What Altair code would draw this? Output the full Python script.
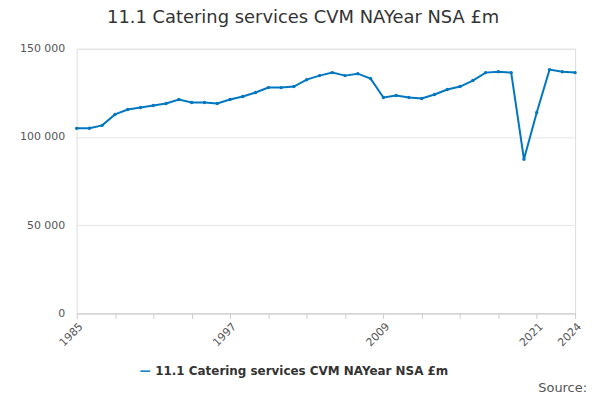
import altair as alt
import pandas as pd

years = list(range(1985, 2025))
values = [104900, 105000, 106600, 112800, 115600, 116700, 117900, 119000, 121300, 119600,
          119600, 119000, 121300, 123000, 125200, 128000, 128000, 128600, 132500, 134800,
          136500, 134800, 135900, 133100, 122400, 123500, 122400, 121800, 124100, 126900,
          128600, 132000, 136500, 137000, 136500, 87400, 113900, 138200, 137000, 136500]
series = "11.1 Catering services CVM NAYear NSA £m"
tick_years = list(range(1985, 2025, 3)) + [2024]

df = pd.DataFrame({"Year": years, "Value": values, "Series": series})

chart = alt.Chart(df).mark_line(color="#0077c0", strokeWidth=2, point=alt.OverlayMarkDef(size=12, filled=True)).encode(
    x=alt.X("Year:Q", scale=alt.Scale(domain=[1985, 2024], nice=False), title=None,
            axis=alt.Axis(values=tick_years, labelAngle=-45, grid=False, format="d",
                          labelExpr="indexof([1985,1997,2009,2021,2024], datum.value) >= 0 ? datum.label : ''",
                          labelColor="#555", tickColor="#ccc", domainColor="#ccc", labelFontSize=11)),
    y=alt.Y("Value:Q", scale=alt.Scale(domain=[0, 150000]), title=None,
            axis=alt.Axis(values=[0, 50000, 100000, 150000], labelExpr="replace(format(datum.value, ','), ',', ' ')",
                          domain=False, ticks=False, gridColor="#e6e6e6", labelColor="#555", labelFontSize=11,
                          labelPadding=12)),
    color=alt.Color("Series:N", scale=alt.Scale(range=["#0077c0"]),
                    legend=alt.Legend(orient="none", legendX=63, legendY=318, title=None, labelFontSize=12,
                                      labelFontWeight="bold", labelColor="#333", symbolType="stroke", labelLimit=400)),
).properties(
    width=501, height=266,
    title=alt.Title("11.1 Catering services CVM NAYear NSA £m", fontSize=18, fontWeight="normal",
                    color="#333", anchor="start", dx=88, offset=16),
)

source = alt.Chart(pd.DataFrame({"t": ["Source:"]})).mark_text(
    align="right", fontSize=13, color="#555"
).encode(x=alt.value(513), y=alt.value(341), text="t:N")

out = alt.layer(chart, source).properties(padding={"left": 11, "top": 0, "right": 5, "bottom": 2}
    ).configure_view(strokeOpacity=0).configure(font="DejaVu Sans")
out.save("out.html", embed_options={"renderer": "svg", "actions": False})
